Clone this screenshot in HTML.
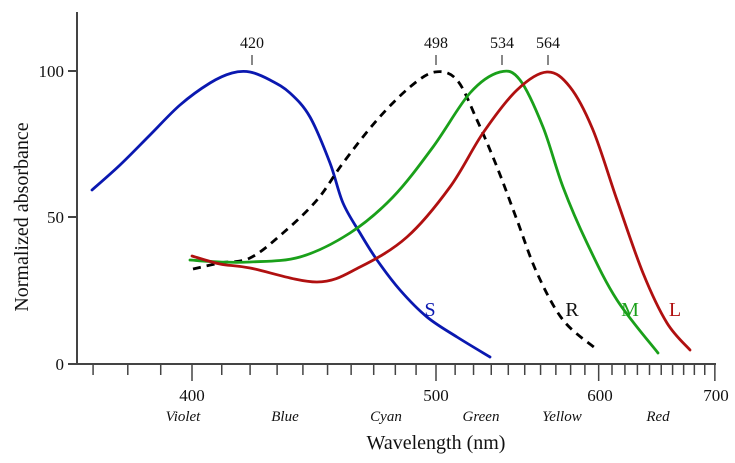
<!DOCTYPE html>
<html><head><meta charset="utf-8"><style>html,body{margin:0;padding:0;background:#fff}svg{display:block}</style></head>
<body>
<svg width="735" height="463" viewBox="0 0 735 463" xmlns="http://www.w3.org/2000/svg" font-family="Liberation Serif, serif">
<g stroke="#444" stroke-width="2" fill="none">
<line x1="77" y1="12" x2="77" y2="365"/>
<line x1="76" y1="364" x2="716" y2="364"/>
<line x1="68" y1="71" x2="77" y2="71"/>
<line x1="68" y1="217" x2="77" y2="217"/>
<line x1="68" y1="364" x2="77" y2="364"/>
</g>
<g id="ticks" stroke="#444" stroke-width="1.5"></g>
<g font-size="17" fill="#111" text-anchor="end">
<text x="64" y="77">100</text><text x="64" y="223">50</text><text x="64" y="370">0</text>
</g>
<g font-size="17" fill="#111" text-anchor="middle">
<text x="192" y="401">400</text><text x="436" y="401">500</text><text x="600" y="401">600</text><text x="716" y="401">700</text>
</g>
<g font-size="15" fill="#111" text-anchor="middle" font-style="italic">
<text x="183" y="421">Violet</text><text x="285" y="421">Blue</text><text x="386" y="421">Cyan</text><text x="481" y="421">Green</text><text x="562" y="421">Yellow</text><text x="658" y="421">Red</text>
</g>
<text x="436" y="449" font-size="20" text-anchor="middle" fill="#111">Wavelength (nm)</text>
<text transform="translate(28,217) rotate(-90)" font-size="20" text-anchor="middle" fill="#111">Normalized absorbance</text>
<g font-size="16" fill="#111" text-anchor="middle">
<text x="252" y="48">420</text><text x="436" y="48">498</text><text x="502" y="48">534</text><text x="548" y="48">564</text>
</g>
<g stroke="#111" stroke-width="1">
<line x1="252" y1="55" x2="252" y2="65"/><line x1="436" y1="55" x2="436" y2="65"/><line x1="502" y1="55" x2="502" y2="65"/><line x1="548" y1="55" x2="548" y2="65"/>
</g>
<g fill="none" stroke-width="2.8" stroke-linejoin="round" stroke-linecap="round">
<path id="S" stroke="#0a18b0"/>
<path id="R" stroke="#000" stroke-dasharray="8,6" stroke-linecap="butt"/>
<path id="M" stroke="#1aa01a"/>
<path id="L" stroke="#b01010"/>
</g>
<g font-size="20">
<text x="430" y="316" fill="#0a18b0" text-anchor="middle">S</text>
<text x="572" y="316" fill="#111" text-anchor="middle">R</text>
<text x="630" y="316" fill="#1aa01a" text-anchor="middle">M</text>
<text x="675" y="316" fill="#b01010" text-anchor="middle">L</text>
</g>
</svg>
<script>
function X(l){return 192+488000*(1/400-1/l);}
var t='';for(var l=370;l<=700;l+=10){var x=X(l);var big=(l%100==0);t+='<line x1="'+x+'" y1="364" x2="'+x+'" y2="'+(big?381:375)+'"/>';}
document.getElementById('ticks').innerHTML=t;
function cr(p){var d='M'+p[0][0]+','+p[0][1];for(var i=0;i<p.length-1;i++){var p0=p[i-1]||p[i],p1=p[i],p2=p[i+1],p3=p[i+2]||p2;
d+=' C'+(p1[0]+(p2[0]-p0[0])/6)+','+(p1[1]+(p2[1]-p0[1])/6)+' '+(p2[0]-(p3[0]-p1[0])/6)+','+(p2[1]-(p3[1]-p1[1])/6)+' '+p2[0]+','+p2[1];}return d;}
var D={
S:[[92,190],[120,165],[150,135],[180,105],[210,83],[232,73],[250,72],[270,80],[290,93],[310,117],[330,163],[343,203],[360,233],[377,260],[400,290],[427,317],[457,337],[490,357]],
R:[[193,269],[220,263],[250,258],[283,233],[317,200],[343,163],[377,120],[410,87],[435,72],[457,80],[477,120],[497,167],[517,220],[537,273],[563,320],[595,348]],
M:[[190,260],[220,262],[250,262],[300,257],[350,233],[393,197],[433,147],[470,93],[500,72],[520,80],[543,127],[563,187],[587,243],[617,300],[658,353]],
L:[[192,256],[220,264],[250,268],[317,282],[360,267],[407,237],[450,187],[483,133],[517,90],[547,72],[570,87],[593,130],[617,200],[643,273],[667,323],[690,350]]};
for(var k in D)document.getElementById(k).setAttribute('d',cr(D[k]));
</script>
</body></html>
